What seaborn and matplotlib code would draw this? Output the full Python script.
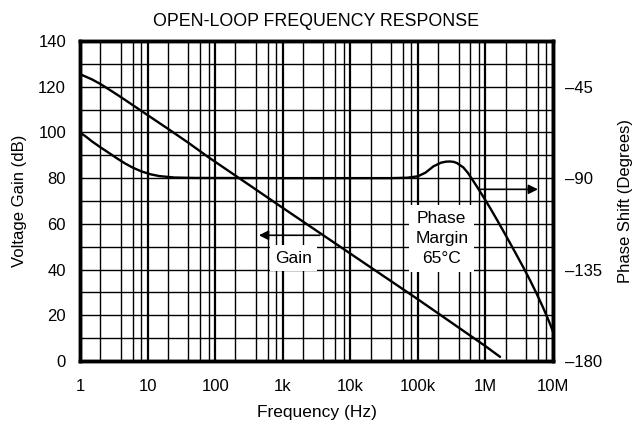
import matplotlib
matplotlib.use("Agg")
import numpy as np
import pandas as pd
import matplotlib.pyplot as plt
import seaborn as sns
from matplotlib.ticker import FixedLocator, NullFormatter, LogLocator

# values
gain_freq = [1, 1.5, 2, 3, 4, 6, 8, 12, 20, 40, 80, 200,
             1e3, 1e4, 1e5, 1e6, 1.65e6]
gain_db = [125.5, 123.2, 121.2, 117.9, 115.5, 112.0, 109.5, 106.0, 101.6, 95.5, 89.1, 81.1,
           67, 47, 27, 6.5, 1.8]

phase_freq = [1, 1.25, 1.5, 2, 2.6, 3.5, 4.6, 6, 8, 11, 15, 25, 50,
              1e3, 4e4, 7e4, 1e5, 1.3e5, 1.7e5, 2.2e5, 2.6e5, 3e5, 3.4e5, 3.8e5,
              4.7e5, 5.5e5, 6.2e5, 7.4e5, 9e5, 1.17e6, 1.5e6, 2.05e6, 2.7e6,
              3.6e6, 4.6e6, 5.7e6, 7e6, 8e6, 9e6, 1e7]
phase_deg = [-67.5, -69.8, -71.9, -74.8, -77.3, -80.2, -82.7, -84.8, -86.6, -88.1, -89.0, -89.7, -89.9,
             -90, -90, -89.8, -89.1, -87.3, -84.2, -82.4, -81.9, -81.8, -82.0, -82.6,
             -84.7, -87.4, -90, -93.9, -98.4, -104.6, -110.8, -118.8, -126.0,
             -133.6, -140.4, -146.7, -153.1, -157.5, -161.6, -165.5]

x_ticks = [1, 10, 100, 1e3, 1e4, 1e5, 1e6, 1e7]
x_labels = ["1", "10", "100", "1k", "10k", "100k", "1M", "10M"]
gain_ticks = [0, 20, 40, 60, 80, 100, 120, 140]
phase_ticks = [-180, -135, -90, -45]
phase_labels = ["\u2013180", "\u2013135", "\u201390", "\u201345"]

sns.set_theme(style="white")
plt.rcParams['font.family'] = ['Liberation Sans', 'DejaVu Sans']

fig, ax = plt.subplots(figsize=(6.37, 4.26), dpi=100)
fig.subplots_adjust(left=0.1256, right=0.8681, bottom=0.1526, top=0.9038)

ax.set_xscale('log')
ax.set_xlim(1, 1e7)
ax.set_ylim(0, 140)
ax.set_axisbelow(True)

ax2 = ax.twinx()
ax2.set_ylim(-180, -22.5)

sns.lineplot(x=gain_freq, y=gain_db, ax=ax, color='black', linewidth=1.7)
sns.lineplot(x=phase_freq, y=phase_deg, ax=ax2, color='black', linewidth=1.7)

# grid
ax.xaxis.set_major_locator(FixedLocator(x_ticks))
ax.set_xticklabels(x_labels)
ax.xaxis.set_minor_locator(LogLocator(base=10, subs=[2, 4, 6, 8]))
ax.xaxis.set_minor_formatter(NullFormatter())
ax.set_yticks(gain_ticks)
ax.set_yticks(range(0, 141, 10), minor=True)
ax.grid(which='major', axis='x', color='black', linewidth=1.6)
ax.grid(which='minor', axis='x', color='black', linewidth=1.0)
ax.grid(which='both', axis='y', color='black', linewidth=1.0)

ax2.set_yticks(phase_ticks)
ax2.set_yticklabels(phase_labels)

for a in (ax, ax2):
    for s in a.spines.values():
        s.set_color('black')
        s.set_linewidth(2.5)
    a.tick_params(which='both', length=0, labelsize=12, colors='black')
ax.tick_params(axis='x', pad=13)
ax.tick_params(axis='y', pad=10)
ax2.tick_params(axis='y', pad=9)

ax.set_xlabel('Frequency (Hz)', fontsize=12.5, labelpad=8, color='black')
ax.set_ylabel('Voltage Gain (dB)', fontsize=12, labelpad=8, color='black')
ax2.set_ylabel('Phase Shift (Degrees)', fontsize=12, labelpad=11, color='black')
ax.set_title('OPEN-LOOP FREQUENCY RESPONSE', fontsize=12.8, pad=11, color='black')

# annotations
ax.annotate('', xy=(444, 55), xytext=(3550, 55),
            arrowprops=dict(arrowstyle='-|>', color='black', lw=1.2,
                            mutation_scale=14, shrinkA=0, shrinkB=0))
ax.text(1430, 45, 'Gain', ha='center', va='center', fontsize=12.5, color='black',
        bbox=dict(boxstyle='square,pad=0.3', facecolor='white', edgecolor='none'))
ax.annotate('', xy=(6.0e6, 75.1), xytext=(8.27e5, 75.1),
            arrowprops=dict(arrowstyle='-|>', color='black', lw=1.2,
                            mutation_scale=14, shrinkA=0, shrinkB=0))
ax.text(2.26e5, 53.6, 'Phase\nMargin\n65\u00b0C', ha='center', va='center',
        fontsize=12.5, color='black', linespacing=1.4,
        bbox=dict(boxstyle='square,pad=0.35', facecolor='white', edgecolor='none'))

fig.savefig('out.png', dpi=100)
